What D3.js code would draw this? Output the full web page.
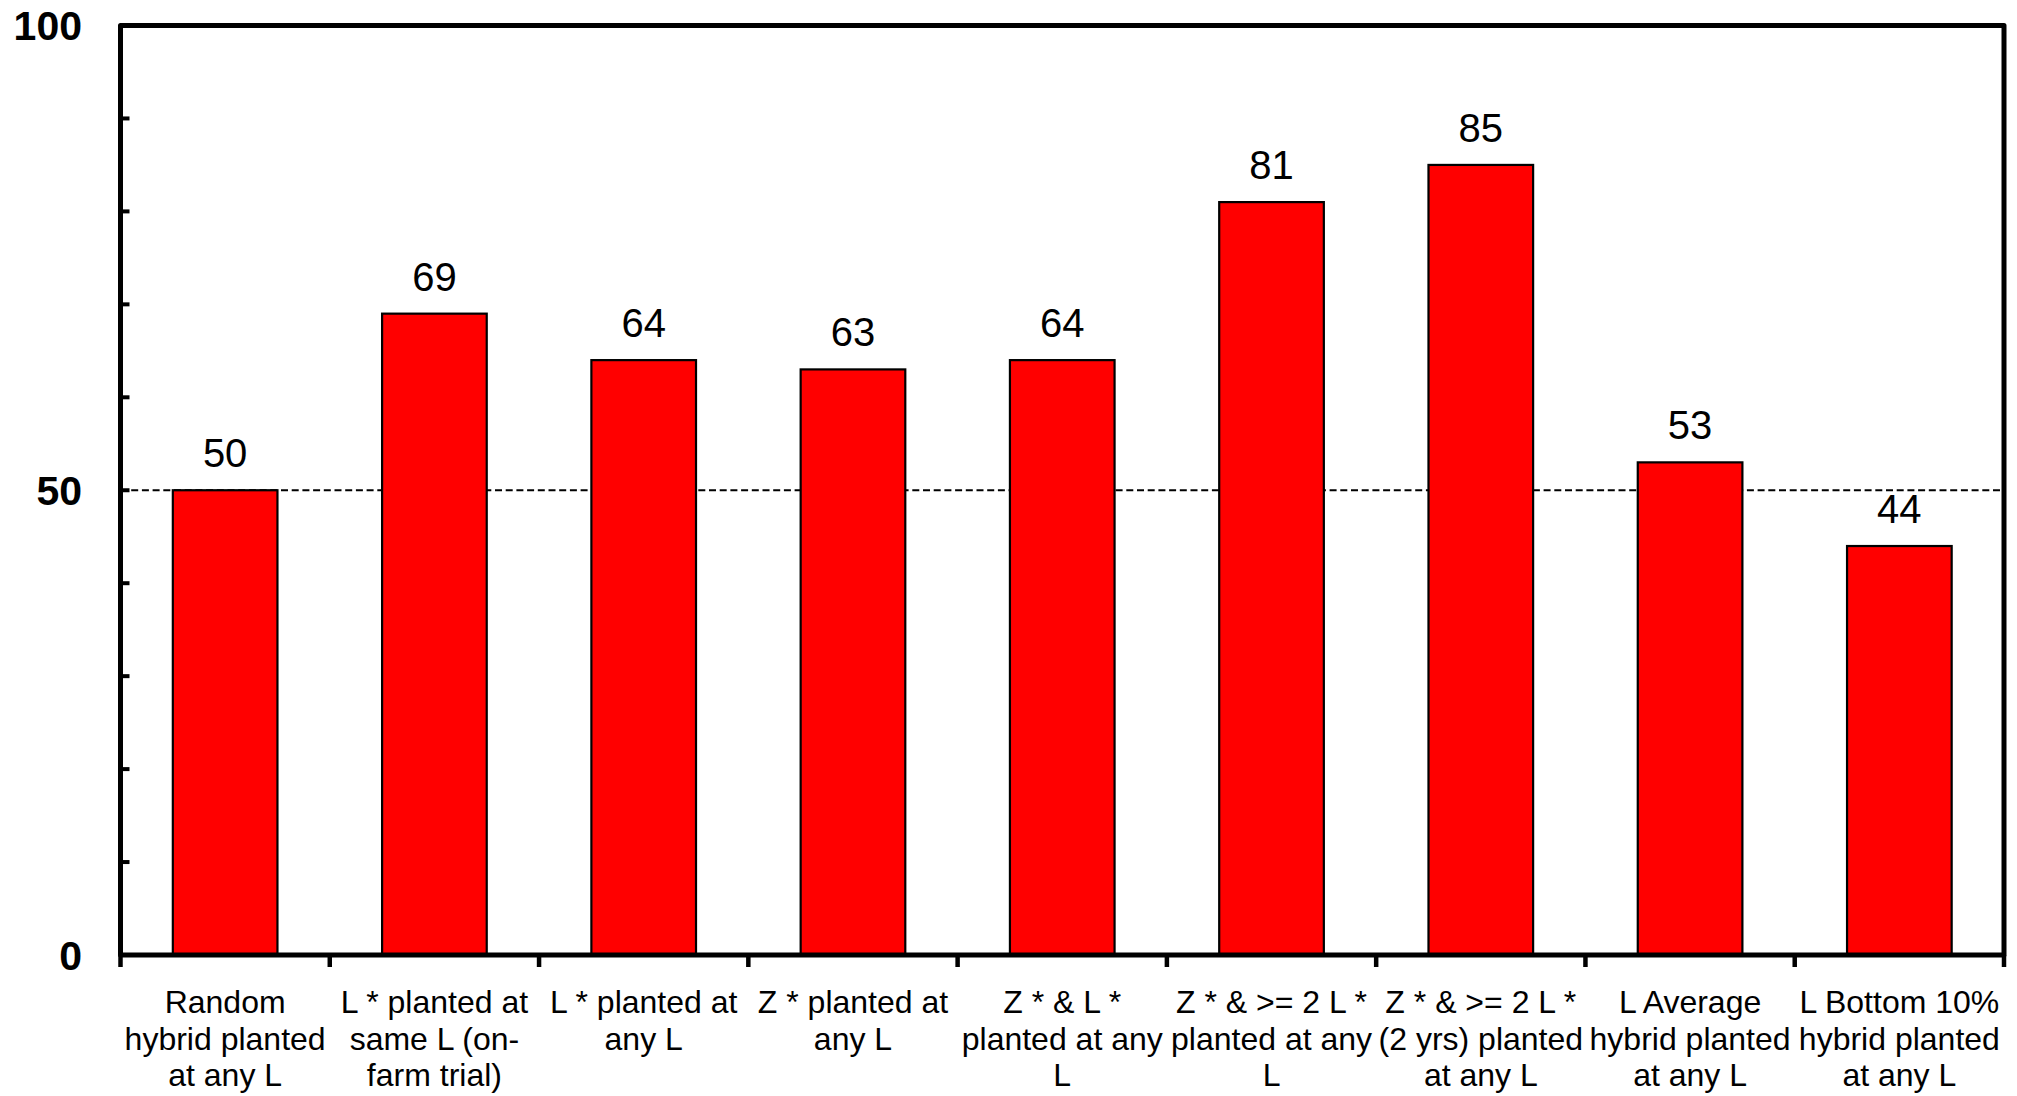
<!DOCTYPE html>
<html>
<head>
<meta charset="utf-8">
<script src="https://cdn.jsdelivr.net/npm/d3@7"></script>
<style>
  html, body { margin: 0; padding: 0; background: #fff; }
  svg { display: block; font-family: "Liberation Sans", Arial, sans-serif; }
</style>
</head>
<body>
<svg id="chart" width="2017" height="1096"></svg>
<script>
// Category labels, one array of lines per bar
const categories = [
  ["Random", "hybrid planted", "at any L"],
  ["L * planted at", "same L (on-", "farm trial)"],
  ["L * planted at", "any L"],
  ["Z * planted at", "any L"],
  ["Z * & L *", "planted at any", "L"],
  ["Z * & >= 2 L *", "planted at any", "L"],
  ["Z * & >= 2 L *", "(2 yrs) planted", "at any L"],
  ["L Average", "hybrid planted", "at any L"],
  ["L Bottom 10%", "hybrid planted", "at any L"]
];
const values = [50, 69, 64, 63, 64, 81, 85, 53, 44];
const yTickLabels = [0, 50, 100];
const yMinorTicks = [10, 20, 30, 40, 50, 60, 70, 80, 90];
const referenceLevel = 50;

const svg = d3.select("#chart");
const margin = { left: 120.5, right: 2004, top: 25.5, bottom: 955 };

const keys = categories.map((c, i) => i);
const x = d3.scaleBand()
  .domain(keys)
  .range([margin.left, margin.right])
  .paddingInner(0.5)
  .paddingOuter(0.25);
const step = x.step();

const y = d3.scaleLinear()
  .domain([0, 100])
  .range([margin.bottom, margin.top]);

// dashed reference line at 50 (behind bars)
svg.append("line")
  .attr("x1", margin.left).attr("x2", margin.right)
  .attr("y1", y(referenceLevel)).attr("y2", y(referenceLevel))
  .attr("stroke", "#000").attr("stroke-width", 2)
  .attr("stroke-dasharray", "7,3.7");

// bars
svg.append("g").selectAll("rect")
  .data(values)
  .join("rect")
  .attr("x", (d, i) => x(i))
  .attr("width", x.bandwidth())
  .attr("y", d => y(d))
  .attr("height", d => y(0) - y(d))
  .attr("fill", "#ff0000")
  .attr("stroke", "#000")
  .attr("stroke-width", 2.2);

// value labels
svg.append("g").selectAll("text")
  .data(values)
  .join("text")
  .attr("x", (d, i) => x(i) + x.bandwidth() / 2)
  .attr("y", d => y(d) - 23)
  .attr("text-anchor", "middle")
  .attr("font-size", 40)
  .attr("fill", "#000")
  .text(d => d);

// y minor ticks (inward)
svg.append("g").selectAll("line")
  .data(yMinorTicks)
  .join("line")
  .attr("x1", margin.left).attr("x2", margin.left + 9)
  .attr("y1", d => y(d)).attr("y2", d => y(d))
  .attr("stroke", "#000").attr("stroke-width", 4);

// x ticks at band boundaries (outward)
const boundaries = d3.range(categories.length + 1).map(i => margin.left + i * step);
svg.append("g").selectAll("line")
  .data(boundaries)
  .join("line")
  .attr("x1", d => d).attr("x2", d => d)
  .attr("y1", margin.bottom).attr("y2", margin.bottom + 12)
  .attr("stroke", "#000").attr("stroke-width", 4.5);

// frame: left axis, bottom axis, top and right borders
svg.append("path")
  .attr("d", `M${margin.left},${margin.bottom}V${margin.top}H${margin.right}V${margin.bottom}Z`)
  .attr("fill", "none")
  .attr("stroke", "#000")
  .attr("stroke-width", 5)
  .attr("stroke-linejoin", "round");

// y tick labels
svg.append("g").selectAll("text")
  .data(yTickLabels)
  .join("text")
  .attr("x", 82)
  .attr("y", d => y(d))
  .attr("dy", "0.36em")
  .attr("text-anchor", "end")
  .attr("font-size", 41)
  .attr("font-weight", "bold")
  .attr("fill", "#000")
  .text(d => d);

// x category labels
const xl = svg.append("g").selectAll("text")
  .data(categories)
  .join("text")
  .attr("text-anchor", "middle")
  .attr("font-size", 32)
  .attr("fill", "#000");
xl.each(function(lines, i) {
  const t = d3.select(this);
  lines.forEach((ln, j) => {
    t.append("tspan")
      .attr("x", x(i) + x.bandwidth() / 2)
      .attr("y", 1013 + j * 36.7)
      .text(ln);
  });
});
</script>
</body>
</html>
